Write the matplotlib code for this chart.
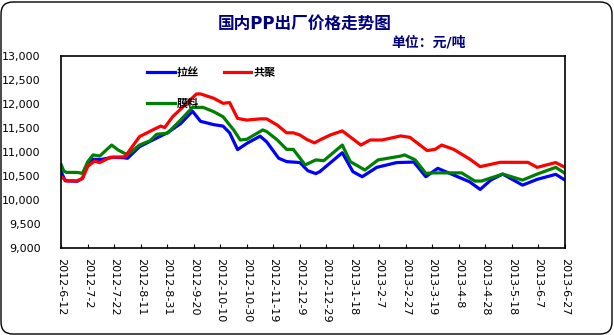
import matplotlib
matplotlib.use("Agg")
import matplotlib.pyplot as plt
from matplotlib.patches import FancyBboxPatch
from matplotlib.transforms import IdentityTransform
import pandas as pd

plt.rcParams['font.family'] = ['DejaVu Sans', 'Noto Sans CJK SC']

base = pd.Timestamp("2012-06-12")

# days after 2012-6-12
lasi_days = [0, 3, 12, 16, 20, 24, 29, 39, 47, 50, 59, 69, 80, 90, 99, 105, 115, 122, 127,
             133, 140, 150, 155, 164, 170, 180, 186, 192, 195, 212, 220, 227, 238, 253,
             266, 275, 284, 293, 308, 316, 324, 333, 348, 359, 373, 380]
lasi_vals = [10580, 10400, 10390, 10450, 10780, 10850, 10840, 10890, 10880, 10870, 11110,
             11250, 11400, 11590, 11850, 11640, 11570, 11540, 11400, 11050, 11180, 11330,
             11210, 10870, 10800, 10780, 10610, 10550, 10590, 10985, 10590, 10485, 10680,
             10780, 10790, 10485, 10660, 10555, 10380, 10220, 10415, 10540, 10310, 10430,
             10535, 10415]

gongju_days = [0, 4, 12, 16, 20, 25, 29, 37, 48, 59, 69, 75, 78, 84, 92, 102, 105, 115, 122,
               127, 133, 140, 150, 155, 163, 170, 175, 180, 185, 191, 195, 203, 212, 226,
               233, 242, 256, 263, 276, 282, 287, 296, 308, 316, 331, 352, 359, 373, 380]
gongju_vals = [10485, 10400, 10400, 10450, 10700, 10810, 10780, 10890, 10900, 11320, 11460,
               11540, 11510, 11735, 11945, 12210, 12210, 12120, 12015, 12030, 11700, 11665,
               11690, 11690, 11560, 11400, 11400, 11355, 11265, 11190, 11250, 11355, 11440,
               11145, 11250, 11250, 11335, 11305, 11030, 11055, 11145, 11055, 10855, 10695,
               10785, 10785, 10680, 10780, 10680]

moliao_days = [0, 2, 4, 12, 16, 20, 24, 29, 38, 43, 50, 59, 67, 72, 80, 90, 99, 107, 115,
               122, 130, 135, 140, 152, 155, 163, 170, 175, 184, 192, 198, 212, 218, 229,
               239, 256, 259, 267, 275, 281, 302, 312, 317, 333, 348, 359, 373, 380]
moliao_vals = [10730, 10600, 10575, 10575, 10555, 10800, 10940, 10915, 11145, 11040, 10940,
               11145, 11235, 11370, 11390, 11665, 11930, 11930, 11840, 11735, 11460, 11250,
               11265, 11460, 11425, 11250, 11055, 11055, 10730, 10835, 10820, 11145, 10800,
               10625, 10835, 10915, 10940, 10835, 10555, 10565, 10565, 10395, 10395, 10540,
               10415, 10540, 10680, 10555]

tick_labels = ["2012-6-12", "2012-7-2", "2012-7-22", "2012-8-11", "2012-8-31", "2012-9-20",
               "2012-10-10", "2012-10-30", "2012-11-19", "2012-12-9", "2012-12-29",
               "2013-1-18", "2013-2-7", "2013-2-27", "2013-3-19", "2013-4-8", "2013-4-28",
               "2013-5-18", "2013-6-7", "2013-6-27"]
y_ticks = [9000, 9500, 10000, 10500, 11000, 11500, 12000, 12500, 13000]


def to_dates(days):
    return [base + pd.Timedelta(days=d) for d in days]


fig = plt.figure(figsize=(6.14, 3.35), dpi=100)
ax = fig.add_axes([0.0998, 0.2597, 0.8204, 0.5731])

ax.plot(to_dates(lasi_days), lasi_vals, color="#0000ff", lw=2.3, label="拉丝")
ax.plot(to_dates(moliao_days), moliao_vals, color="#008000", lw=2.3, label="膜料")
ax.plot(to_dates(gongju_days), gongju_vals, color="#ff0000", lw=2.3, label="共聚")

ax.set_ylim(9000, 13000)
ax.set_yticks(y_ticks)
ax.set_yticklabels([f"{v:,}" for v in y_ticks], fontsize=8)
ax.tick_params(axis="y", length=0, pad=15)

tick_pos = pd.to_datetime(tick_labels, format="%Y-%m-%d")
ax.set_xlim(tick_pos[0], tick_pos[-1])
ax.set_xticks(tick_pos)
ax.set_xticklabels(tick_labels, rotation=270, fontsize=8, va="top", ha="center")
ax.tick_params(axis="x", direction="in", length=3, pad=7)

for s in ax.spines.values():
    s.set_linewidth(1.2)

handles, labels = ax.get_legend_handles_labels()
leg = ax.legend(handles, labels, ncol=2, frameon=False, loc="upper left",
                bbox_to_anchor=(0.17, 0.94), borderaxespad=0, borderpad=0,
                handlelength=2.5, handletextpad=0.2, columnspacing=2.2,
                labelspacing=1.8, prop={"size": 8, "weight": "bold"})

fig.text(0.497, 0.93, "国内PP出厂价格走势图", ha="center", va="center",
         fontsize=12, fontweight="bold", color="#000080")
fig.text(0.638, 0.873, "单位：元/吨", ha="left", va="center",
         fontsize=10, fontweight="bold", color="#000080")

frame = FancyBboxPatch((1, 1), 611, 332, boxstyle="round,pad=0,rounding_size=12",
                       transform=IdentityTransform(), fill=False, ec="black", lw=1)
fig.patches.append(frame)

fig.savefig("out.png", dpi=100)
